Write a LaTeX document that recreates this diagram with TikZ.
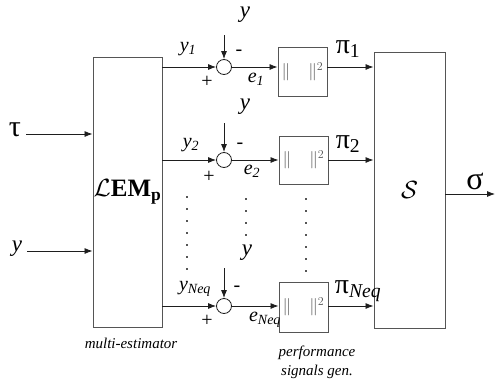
\documentclass[tikz,border=0pt]{standalone}
\usepackage{fontspec}
\setmainfont{Liberation Serif}
\usetikzlibrary{positioning, arrows.meta}
\definecolor{ink}{RGB}{30, 30, 30}
\definecolor{frame}{RGB}{85, 85, 85}

\begin{document}
\begin{tikzpicture}[x=1pt, y=-1pt,
      blk/.style={draw=frame, line width=0.9pt, inner sep=0pt},
      normbox/.style={blk, minimum width=49pt, text=frame, font=\fontsize{18}{18}\selectfont},
      sumpt/.style={circle, draw=ink, line width=0.8pt, minimum size=15pt, inner sep=0pt},
      arr/.style={-{Latex[length=8pt, width=6pt]}, line width=0.8pt, color=ink},
      lbl/.style={inner sep=0pt, font=\fontsize{20}{20}\selectfont\itshape},
      meas/.style={inner sep=0pt, font=\fontsize{23}{23}\selectfont\itshape},
      greek/.style={inner sep=0pt, font=\fontsize{28}{28}\selectfont},
      sgn/.style={inner sep=0pt, font=\fontsize{20}{20}\selectfont},
      note/.style={inner sep=0pt, align=center, font=\fontsize{15}{19}\selectfont\itshape},
      dots/.style={line width=1.4pt, color=frame, dash pattern=on 1.2pt off 10.8pt}]
    \useasboundingbox (0,0) rectangle (495,383);
    % blocks
    \node[blk, minimum width=69pt, minimum height=270pt, font=\fontsize{25}{25}\selectfont] (lem) at (127.5,192)
        {$\mathcal{L}$\textbf{EM}\textsubscript{\textbf{p}}};
    \node[blk, minimum width=71pt, minimum height=276pt, font=\fontsize{34}{34}\selectfont] (sel) at (409.5,190) {$\mathcal{S}$};
    \node[normbox, minimum height=49pt] (n1) at (302.5,71.5) {$\|\quad\|^{2}$};
    \node[normbox, minimum height=48pt] (n2) at (303.5,160) {$\|\quad\|^{2}$};
    \node[normbox, minimum height=50pt] (n3) at (303.5,307) {$\|\quad\|^{2}$};
    % summing points
    \node[sumpt] (c1) at (224,67) {};
    \node[sumpt] (c2) at (224,160) {};
    \node[sumpt] (c3) at (224,306) {};
    % inputs
    \node[greek, font=\fontsize{30}{30}\selectfont] (tau) at (15,130) {τ};
    \node[meas] (yin) at (17,249) {y};
    \coordinate (t1) at (224,35);
    \coordinate (t2) at (224,123);
    \coordinate (t3) at (224,268);
    \node[meas] (y1) at (245,15) {y};
    \node[meas] (y2) at (245,107) {y};
    \node[meas] (y3) at (247,253) {y};
    % labels
    \node[lbl] (yh1) at (188,49) {y\textsubscript{1}};
    \node[lbl] (yh2) at (191,145) {y\textsubscript{2}};
    \node[lbl] (yh3) at (195,289) {y\textsubscript{Neq}};
    \node[lbl] (e1) at (256,79) {e\textsubscript{1}};
    \node[lbl] (e2) at (252,171) {e\textsubscript{2}};
    \node[lbl] (e3) at (265,320) {e\textsubscript{Neq}};
    \node[sgn] (p1) at (207,82) {+};
    \node[sgn] (p2) at (209,177) {+};
    \node[sgn] (p3) at (207,321) {+};
    \node[sgn] (m1) at (239,53) {-};
    \node[sgn] (m2) at (240,146) {-};
    \node[sgn] (m3) at (237,289) {-};
    \node[greek] (pi1) at (348,49) {π\textsubscript{1}};
    \node[greek] (pi2) at (348,144) {π\textsubscript{2}};
    \node[greek] (pi3) at (358,291) {π\textsubscript{\textit{Neq}}};
    \node[greek, font=\fontsize{32}{32}\selectfont] (sig) at (475,181) {σ};
    \coordinate (out) at (495,194);
    \node[note] (me) at (131,343) {multi-estimator};
    \node[note] (pg) at (317,362) {performance\\signals gen.};
    % connectors
    \draw[arr] (tau.east |- 0,134) ++(5pt,0) -- (lem.west |- 0,134);
    \draw[arr] (yin.east |- 0,251) ++(5pt,0) -- (lem.west |- 0,251);
    \draw[arr] (lem.east |- c1) -- (c1);
    \draw[arr] (lem.east |- c2) -- (c2);
    \draw[arr] (lem.east |- c3) -- (c3);
    \draw[arr] (t1) -- (c1);
    \draw[arr] (t2) -- (c2);
    \draw[arr] (t3) -- (c3);
    \draw[arr] (c1) -- (n1.west |- c1);
    \draw[arr] (c2) -- (n2.west |- c2);
    \draw[arr] (c3) -- (n3.west |- c3);
    \draw[arr] (n1.east |- c1) -- (sel.west |- c1);
    \draw[arr] (n2.east |- c2) -- (sel.west |- c2);
    \draw[arr] (n3.east |- c3) -- (sel.west |- c3);
    \draw[arr] (sel.east |- out) -- (out);
    % dotted columns
    \draw[dots] (187,196.4) -- (187,275);
    \draw[dots] (246,198.4) -- (246,240);
    \draw[dots] (306,198.4) -- (306,277);
\end{tikzpicture}
\end{document}
